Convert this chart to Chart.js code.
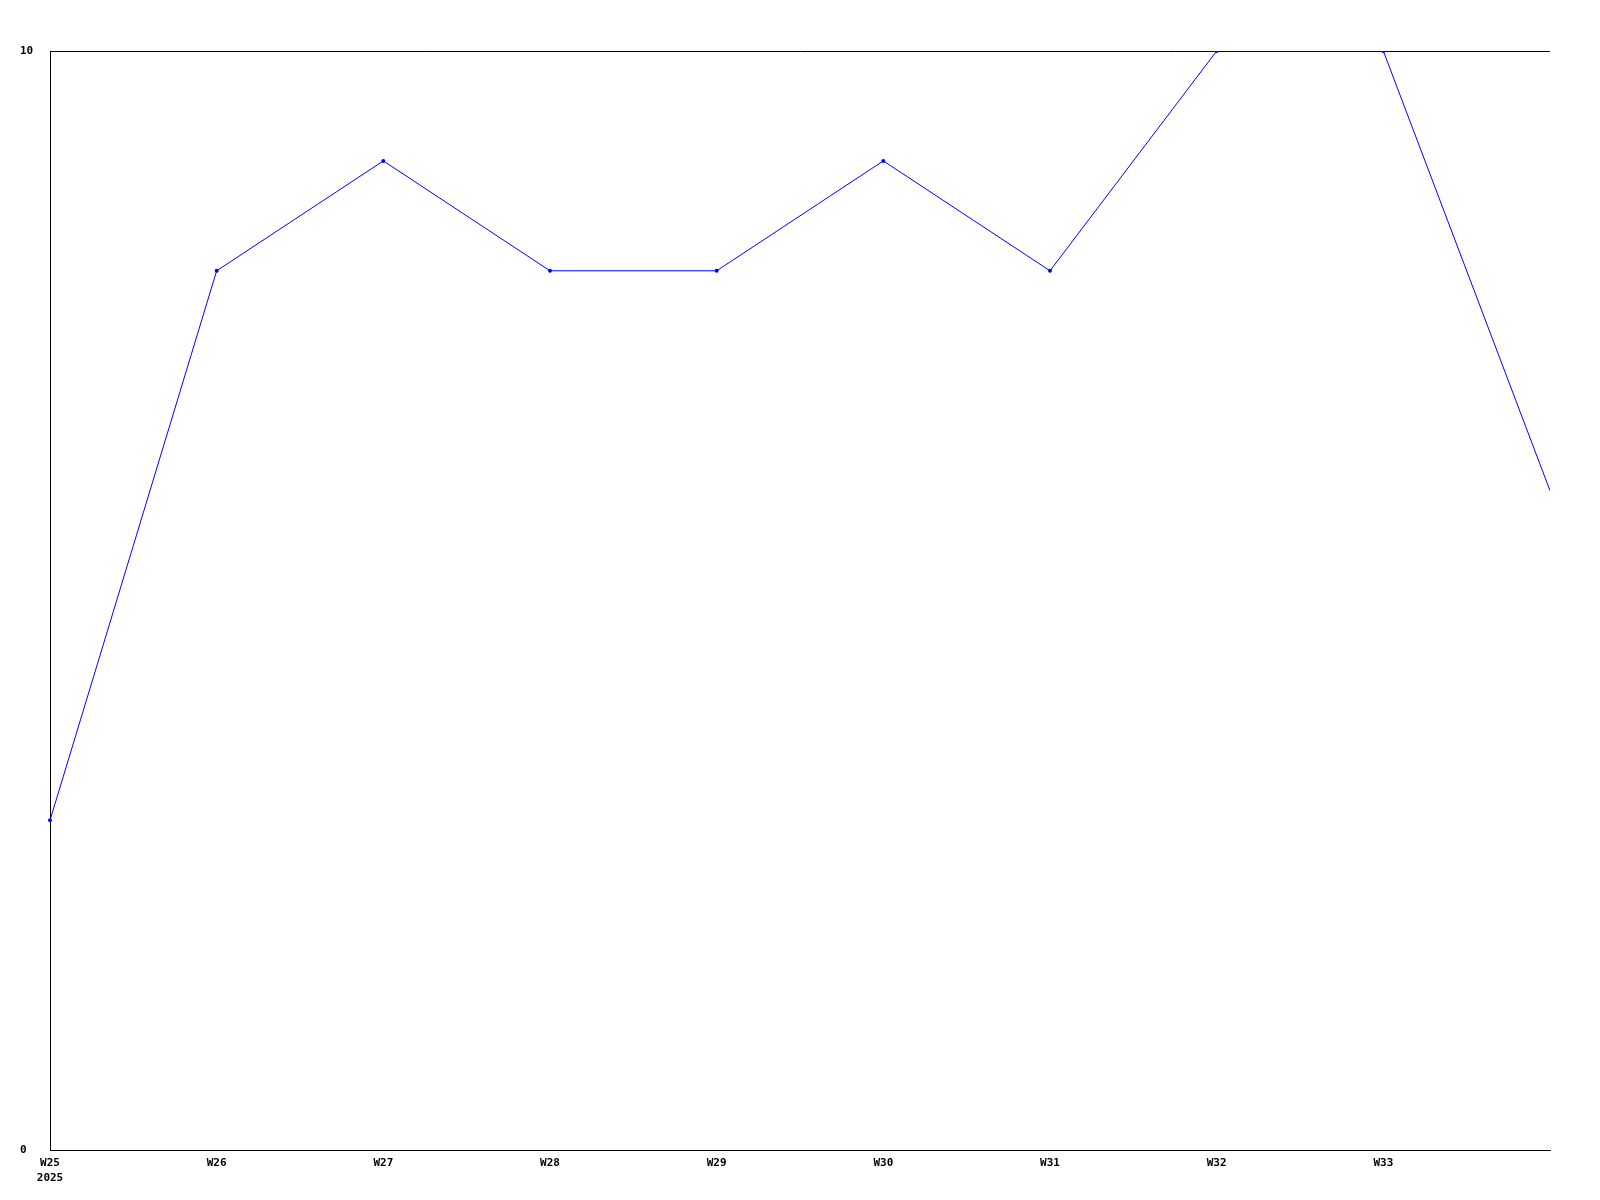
<!DOCTYPE html>
<html>
<head>
<meta charset="utf-8">
<script src="https://cdn.jsdelivr.net/npm/chart.js@4/dist/chart.umd.min.js"></script>
<style>
body { margin: 0; background: #fff; }
canvas { display: block; }
</style>
</head>
<body>
<canvas id="chart" width="1600" height="1200"></canvas>
<script>
var weeks = ["W25", "W26", "W27", "W28", "W29", "W30", "W31", "W32", "W33", "W34"];
var values = [3, 8, 9, 8, 8, 9, 8, 10, 10, 6];
var yearLabel = "2025";
var yTicks = [0, 10];

var ctx = document.getElementById("chart").getContext("2d");
var chart = new Chart(ctx, {
	type: "line",
	data: {
		labels: weeks,
		datasets: [
			{
				data: values,
				borderColor: "#0000ff",
				backgroundColor: "#0000ff",
				borderWidth: 1,
				pointRadius: values.map(function (v, i) { return i == values.length - 1 ? 0 : 2; }),
				pointBorderWidth: 0,
				tension: 0,
				fill: false,
				clip: { left: 3, top: 0, right: 0, bottom: 0 },
			},
		],
	},
	options: {
		responsive: false,
		animation: false,
		events: [],
		layout: {
			padding: { left: 20, top: 51, right: 50, bottom: 0 },
		},
		plugins: {
			legend: { display: false },
			tooltip: { enabled: false },
		},
		scales: {
			x: {
				offset: false,
				grid: { display: false, drawTicks: false },
				border: { display: true, color: "#000", width: 1 },
				ticks: {
					color: "#000",
					padding: 6,
					maxRotation: 0,
					autoSkip: false,
					font: { family: "DejaVu Sans Mono", size: 11, weight: "bold", lineHeight: 1.35 },
					callback: function (val, i) {
						if (i == weeks.length - 1) return "";
						if (i == 0) return [weeks[i], yearLabel];
						return weeks[i];
					},
				},
				afterFit: function (axis) { axis.height = 50; },
			},
			y: {
				min: 0,
				max: 10,
				grid: { display: true, color: "#000", drawTicks: false, lineWidth: 1 },
				border: { display: true, color: "#000", width: 1 },
				afterBuildTicks: function (axis) {
					axis.ticks = yTicks.map(function (v) { return { value: v }; });
				},
				ticks: {
					color: "#000",
					crossAlign: "far",
					padding: 4,
					font: { family: "DejaVu Sans Mono", size: 11, weight: "bold" },
				},
				afterFit: function (axis) { axis.width = 30; },
			},
		},
	},
});
</script>
</body>
</html>
